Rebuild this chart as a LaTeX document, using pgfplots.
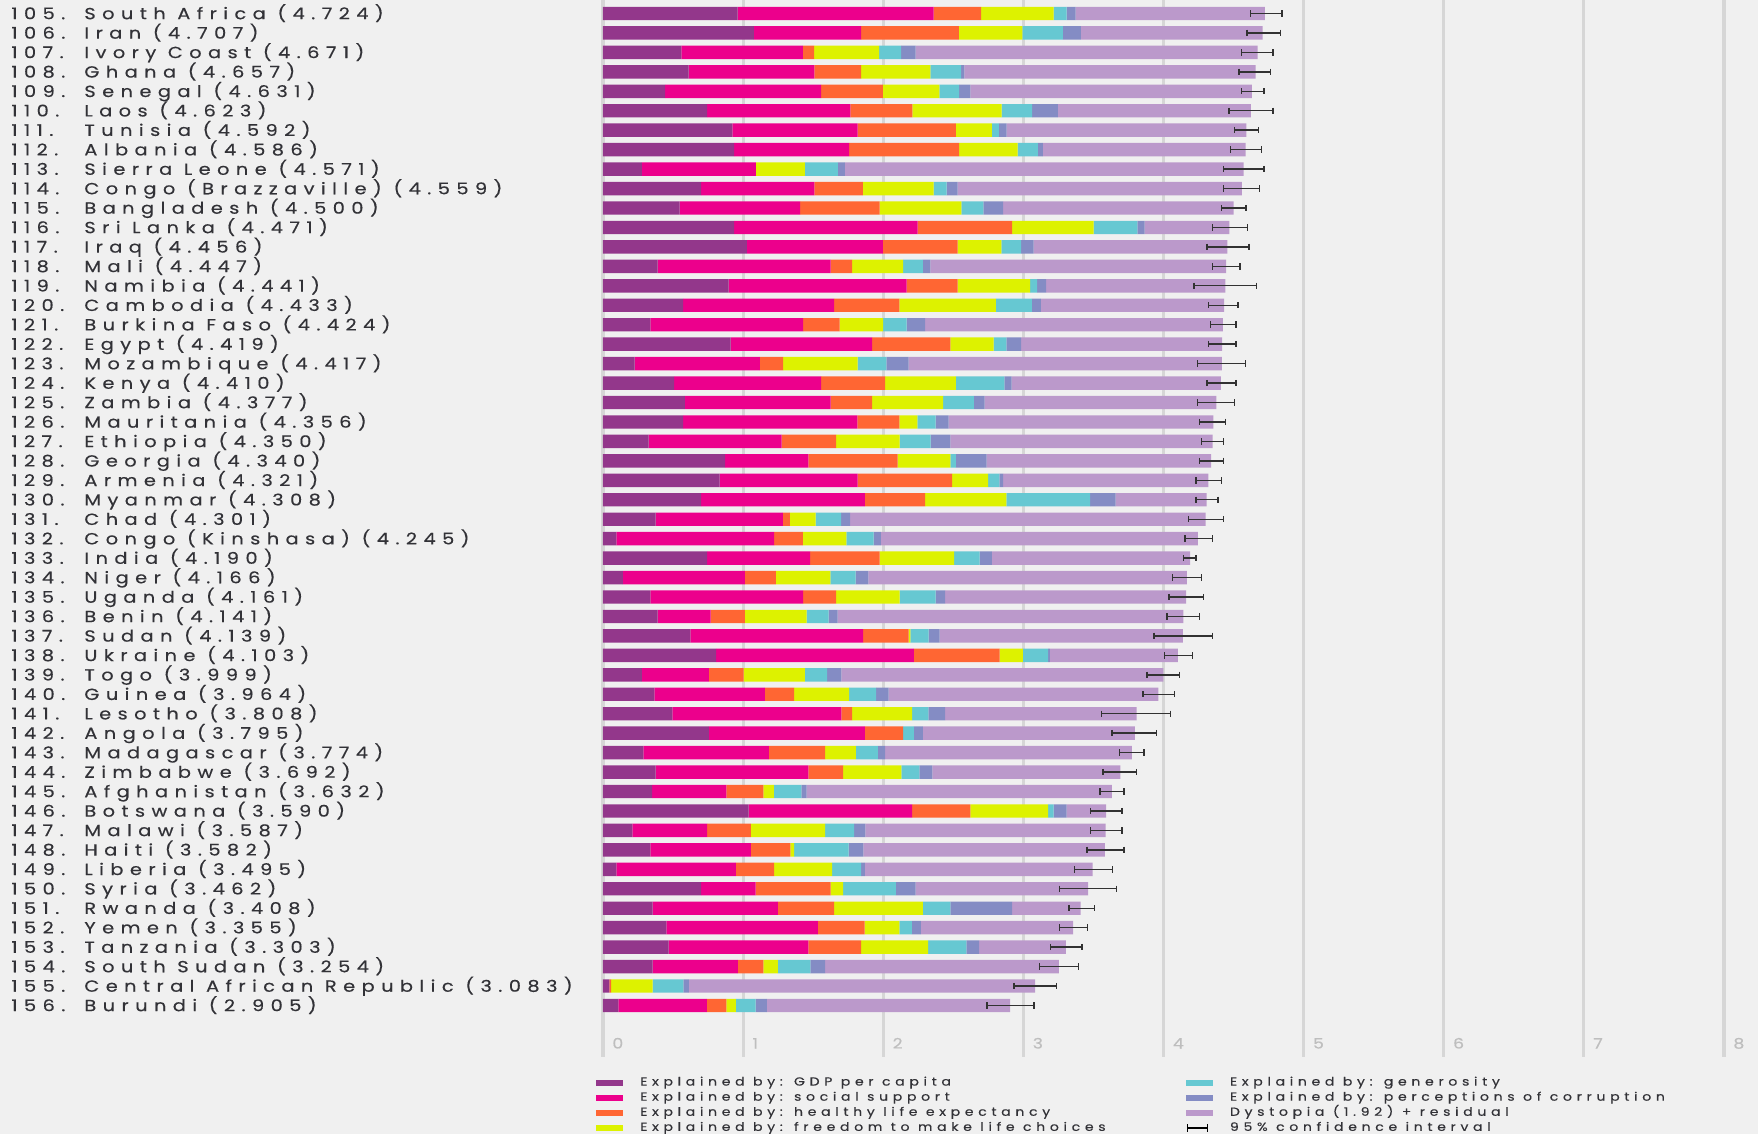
\documentclass[border=0pt]{standalone}
\usepackage{pgfplots}
\pgfplotsset{compat=1.18}
\usepackage{pgfplotstable}
\usepackage{fontspec}
\newfontfamily\lab{Poppins}[FakeStretch=1.2,LetterSpace=40,FakeBold=0.4]
\definecolor{bg}{RGB}{240,240,240}
\definecolor{gridc}{RGB}{214,214,214}
\definecolor{tickc}{RGB}{190,190,190}
\definecolor{labc}{RGB}{50,50,55}
\definecolor{errc}{RGB}{50,50,50}
\definecolor{cgdp}{RGB}{147,55,139}
\definecolor{csoc}{RGB}{236,0,140}
\definecolor{chea}{RGB}{255,102,51}
\definecolor{cfre}{RGB}{221,242,0}
\definecolor{cgen}{RGB}{102,200,210}
\definecolor{ccor}{RGB}{132,140,196}
\definecolor{cdys}{RGB}{187,153,203}
\pgfplotstableread{
idx gdp soc hea fre gen cor dys score em ep
0 0.961 1.399 0.338 0.518 0.093 0.064 1.351 4.724 0.103 0.122
1 1.077 0.765 0.698 0.453 0.289 0.129 1.296 4.707 0.112 0.126
2 0.559 0.868 0.080 0.463 0.158 0.103 2.440 4.671 0.115 0.110
3 0.611 0.897 0.334 0.495 0.219 0.023 2.078 4.657 0.117 0.108
4 0.444 1.113 0.441 0.402 0.141 0.080 2.010 4.631 0.075 0.086
5 0.743 1.023 0.441 0.637 0.219 0.183 1.377 4.623 0.157 0.158
6 0.923 0.894 0.701 0.257 0.051 0.055 1.711 4.592 0.087 0.086
7 0.936 0.820 0.785 0.418 0.145 0.035 1.447 4.586 0.107 0.115
8 0.277 0.814 0.000 0.350 0.235 0.051 2.844 4.571 0.143 0.146
9 0.701 0.807 0.347 0.505 0.093 0.077 2.029 4.559 0.131 0.126
10 0.547 0.859 0.569 0.582 0.158 0.141 1.644 4.500 0.085 0.088
11 0.936 1.309 0.675 0.582 0.312 0.051 0.606 4.471 0.121 0.127
12 1.026 0.971 0.534 0.312 0.141 0.090 1.382 4.456 0.147 0.155
13 0.389 1.235 0.154 0.363 0.141 0.055 2.110 4.447 0.097 0.100
14 0.897 1.270 0.363 0.518 0.051 0.064 1.278 4.441 0.222 0.221
15 0.572 1.077 0.466 0.688 0.257 0.064 1.309 4.433 0.111 0.098
16 0.338 1.090 0.260 0.312 0.167 0.132 2.125 4.424 0.090 0.094
17 0.910 1.010 0.559 0.309 0.090 0.106 1.435 4.419 0.097 0.099
18 0.225 0.894 0.167 0.531 0.206 0.158 2.236 4.417 0.173 0.168
19 0.508 1.048 0.457 0.505 0.347 0.051 1.494 4.410 0.101 0.108
20 0.585 1.039 0.296 0.508 0.219 0.077 1.653 4.377 0.133 0.128
21 0.572 1.244 0.299 0.129 0.129 0.093 1.890 4.356 0.099 0.085
22 0.325 0.949 0.389 0.453 0.222 0.141 1.871 4.350 0.080 0.078
23 0.871 0.595 0.637 0.376 0.039 0.219 1.603 4.340 0.083 0.088
24 0.833 0.984 0.675 0.257 0.080 0.026 1.466 4.321 0.089 0.094
25 0.701 1.167 0.431 0.579 0.598 0.183 0.649 4.308 0.076 0.081
26 0.376 0.907 0.051 0.183 0.183 0.064 2.537 4.301 0.121 0.127
27 0.096 1.125 0.206 0.309 0.196 0.051 2.262 4.245 0.091 0.105
28 0.743 0.736 0.495 0.531 0.183 0.087 1.415 4.190 0.049 0.042
29 0.141 0.871 0.222 0.389 0.180 0.090 2.273 4.166 0.102 0.107
30 0.338 1.090 0.235 0.453 0.257 0.068 1.720 4.161 0.122 0.125
31 0.389 0.379 0.244 0.441 0.158 0.064 2.466 4.141 0.115 0.116
32 0.624 1.232 0.325 0.013 0.129 0.080 1.736 4.139 0.207 0.211
33 0.807 1.412 0.611 0.167 0.180 0.013 0.913 4.103 0.097 0.103
34 0.277 0.479 0.248 0.437 0.158 0.103 2.297 3.999 0.118 0.117
35 0.367 0.788 0.209 0.392 0.193 0.090 1.925 3.964 0.109 0.113
36 0.495 1.206 0.077 0.428 0.116 0.119 1.367 3.808 0.252 0.243
37 0.756 1.113 0.273 0.000 0.077 0.064 1.512 3.795 0.162 0.154
38 0.289 0.894 0.402 0.219 0.158 0.051 1.761 3.774 0.089 0.088
39 0.376 1.090 0.248 0.415 0.129 0.093 1.341 3.692 0.123 0.115
40 0.350 0.531 0.264 0.074 0.196 0.039 2.178 3.632 0.085 0.085
41 1.039 1.167 0.415 0.556 0.039 0.093 0.281 3.590 0.111 0.114
42 0.209 0.534 0.312 0.531 0.206 0.080 1.715 3.587 0.108 0.117
43 0.338 0.717 0.283 0.026 0.389 0.106 1.723 3.582 0.129 0.135
44 0.096 0.852 0.273 0.415 0.206 0.026 1.627 3.495 0.132 0.142
45 0.701 0.389 0.534 0.090 0.376 0.141 1.231 3.462 0.205 0.204
46 0.354 0.894 0.402 0.633 0.196 0.441 0.488 3.408 0.083 0.100
47 0.453 1.080 0.334 0.248 0.090 0.064 1.086 3.355 0.098 0.102
48 0.469 0.997 0.376 0.479 0.273 0.090 0.619 3.303 0.110 0.115
49 0.354 0.608 0.183 0.103 0.232 0.106 1.668 3.254 0.138 0.138
50 0.045 0.000 0.013 0.296 0.219 0.039 2.471 3.083 0.151 0.155
51 0.109 0.633 0.138 0.068 0.141 0.080 1.736 2.905 0.165 0.172
}\data
\newcommand{\CL}[2]{\makebox[36.5pt][l]{#1}#2}
\newcommand{\LE}[1]{\makebox[269pt][l]{#1}}
\newcommand{\SW}[1]{\fill[#1] (0pt,-1.25pt) rectangle (12.8pt,1.25pt);}
\begin{document}
\begin{tikzpicture}[x=1pt,y=1pt]
\fill[bg] (0,0) rectangle (879,-567);
\path[use as bounding box] (0,0) rectangle (879,-567);
\begin{axis}[
  at={(301.5pt,0pt)}, anchor=north west,
  scale only axis, width=560.5pt, height=528.5pt,
  xmin=0, xmax=8, ymin=-0.694, ymax=53.65, y dir=reverse,
  enlargelimits=false, clip=false,
  xbar stacked, bar width=0.69,
  axis line style={draw=none}, tick style={draw=none},
  xmajorgrids, grid style={line width=1.6pt, color=gridc},
  xtick={0,1,2,3,4,5,6,7,8},
  xticklabels={0,1,2,3,4,5,6,7,8},
  xticklabel style={anchor=base west, inner sep=0pt, xshift=4.5pt, yshift=4.25pt, text=tickc, font=\lab\fontsize{7.2}{9}\selectfont},
  ytick={0,...,51},
  yticklabels={
\CL{105.}{South Africa (4.724)},
\CL{106.}{Iran (4.707)},
\CL{107.}{Ivory Coast (4.671)},
\CL{108.}{Ghana (4.657)},
\CL{109.}{Senegal (4.631)},
\CL{110.}{Laos (4.623)},
\CL{111.}{Tunisia (4.592)},
\CL{112.}{Albania (4.586)},
\CL{113.}{Sierra Leone (4.571)},
\CL{114.}{Congo (Brazzaville) (4.559)},
\CL{115.}{Bangladesh (4.500)},
\CL{116.}{Sri Lanka (4.471)},
\CL{117.}{Iraq (4.456)},
\CL{118.}{Mali (4.447)},
\CL{119.}{Namibia (4.441)},
\CL{120.}{Cambodia (4.433)},
\CL{121.}{Burkina Faso (4.424)},
\CL{122.}{Egypt (4.419)},
\CL{123.}{Mozambique (4.417)},
\CL{124.}{Kenya (4.410)},
\CL{125.}{Zambia (4.377)},
\CL{126.}{Mauritania (4.356)},
\CL{127.}{Ethiopia (4.350)},
\CL{128.}{Georgia (4.340)},
\CL{129.}{Armenia (4.321)},
\CL{130.}{Myanmar (4.308)},
\CL{131.}{Chad (4.301)},
\CL{132.}{Congo (Kinshasa) (4.245)},
\CL{133.}{India (4.190)},
\CL{134.}{Niger (4.166)},
\CL{135.}{Uganda (4.161)},
\CL{136.}{Benin (4.141)},
\CL{137.}{Sudan (4.139)},
\CL{138.}{Ukraine (4.103)},
\CL{139.}{Togo (3.999)},
\CL{140.}{Guinea (3.964)},
\CL{141.}{Lesotho (3.808)},
\CL{142.}{Angola (3.795)},
\CL{143.}{Madagascar (3.774)},
\CL{144.}{Zimbabwe (3.692)},
\CL{145.}{Afghanistan (3.632)},
\CL{146.}{Botswana (3.590)},
\CL{147.}{Malawi (3.587)},
\CL{148.}{Haiti (3.582)},
\CL{149.}{Liberia (3.495)},
\CL{150.}{Syria (3.462)},
\CL{151.}{Rwanda (3.408)},
\CL{152.}{Yemen (3.355)},
\CL{153.}{Tanzania (3.303)},
\CL{154.}{South Sudan (3.254)},
\CL{155.}{Central African Republic (3.083)},
\CL{156.}{Burundi (2.905)}},
  yticklabel style={anchor=base west, inner sep=0pt, xshift=-296pt, yshift=-2.85pt, text=labc, font=\lab\fontsize{8.06}{9}\selectfont},
]
\addplot[fill=cgdp, draw=none] table[x=gdp, y=idx]{\data};
\addplot[fill=csoc, draw=none] table[x=soc, y=idx]{\data};
\addplot[fill=chea, draw=none] table[x=hea, y=idx]{\data};
\addplot[fill=cfre, draw=none] table[x=fre, y=idx]{\data};
\addplot[fill=cgen, draw=none] table[x=gen, y=idx]{\data};
\addplot[fill=ccor, draw=none] table[x=cor, y=idx]{\data};
\addplot[fill=cdys, draw=none] table[x=dys, y=idx]{\data};
\end{axis}
\begin{axis}[
  at={(301.5pt,0pt)}, anchor=north west,
  scale only axis, width=560.5pt, height=528.5pt,
  xmin=0, xmax=8, ymin=-53.65, ymax=0.694,
  enlargelimits=false, clip=false, hide axis,
  legend columns=2,
  legend style={at={(axis description cs:-0.00624,-0.0187)}, anchor=north west,
    draw=none, fill=none, inner sep=0pt, row sep=2.15pt,
    font=\lab\fontsize{5.85}{7}\selectfont, text=labc,
    nodes={inner sep=0pt, anchor=west, text height=4.2pt, text depth=1.2pt},
    /tikz/every odd column/.append style={column sep=8.7pt},
    /tikz/every even column/.append style={column sep=4pt}},
  legend cell align=left,
]
\addplot[forget plot, errc, line width=0.7pt, mark=none,
  quiver={u=\thisrow{em}+\thisrow{ep}, v=0}]
  table[x expr=\thisrow{score}-\thisrow{em}, y expr=-\thisrow{idx}]{\data};
\addplot[forget plot, errc, only marks, mark=|, mark size=1.6pt, mark options={line width=0.7pt}]
  table[x expr=\thisrow{score}-\thisrow{em}, y expr=-\thisrow{idx}]{\data};
\addplot[forget plot, errc, only marks, mark=|, mark size=1.6pt, mark options={line width=0.7pt}]
  table[x expr=\thisrow{score}+\thisrow{ep}, y expr=-\thisrow{idx}]{\data};
\addlegendimage{legend image code/.code={\SW{cgdp}}}
\addlegendentry{\LE{Explained by: GDP per capita}}
\addlegendimage{legend image code/.code={\SW{cgen}}}
\addlegendentry{\LE{Explained by: generosity}}
\addlegendimage{legend image code/.code={\SW{csoc}}}
\addlegendentry{\LE{Explained by: social support}}
\addlegendimage{legend image code/.code={\SW{ccor}}}
\addlegendentry{\LE{Explained by: perceptions of corruption}}
\addlegendimage{legend image code/.code={\SW{chea}}}
\addlegendentry{\LE{Explained by: healthy life expectancy}}
\addlegendimage{legend image code/.code={\SW{cdys}}}
\addlegendentry{\LE{Dystopia (1.92) + residual}}
\addlegendimage{legend image code/.code={\SW{cfre}}}
\addlegendentry{\LE{Explained by: freedom to make life choices}}
\addlegendimage{legend image code/.code={\draw[black, line width=0.8pt] (0.4pt,0pt)--(10.4pt,0pt); \draw[black, line width=0.8pt] (0.4pt,-2pt)--(0.4pt,2pt); \draw[black, line width=0.8pt] (10.4pt,-2pt)--(10.4pt,2pt);}}
\addlegendentry{\LE{95\% confidence interval}}
\end{axis}
\end{tikzpicture}
\end{document}
